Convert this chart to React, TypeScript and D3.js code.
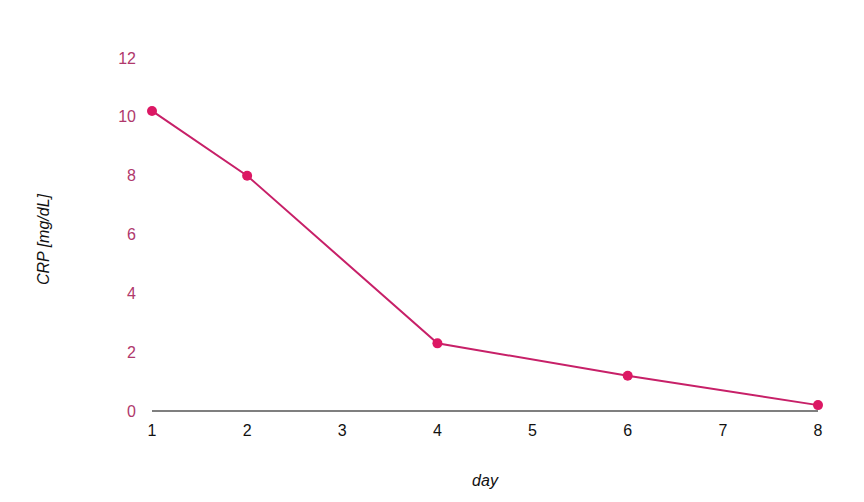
import { useRef, useEffect } from "react"
import * as d3 from "d3"

const days = [1, 2, 4, 6, 8]
const crp = [10.2, 8.0, 2.3, 1.2, 0.2]
const yTicks = [0, 2, 4, 6, 8, 10, 12]
const xTicks = [1, 2, 3, 4, 5, 6, 7, 8]

export default function App() {
  const svgRef = useRef<SVGSVGElement | null>(null)

  useEffect(() => {
    if (!svgRef.current) return
    const svg = d3.select(svgRef.current)
    svg.selectAll("*").remove()

    const width = 864
    const height = 502
    const left = 152
    const right = 818
    const top = 58
    const bottom = 411
    const font = "'Liberation Sans', Arial, sans-serif"

    const x = d3.scaleLinear().domain([1, 8]).range([left, right])
    const y = d3.scaleLinear().domain([0, 12]).range([bottom, top])

    svg.attr("width", width).attr("height", height)
    svg.append("rect").attr("width", width).attr("height", height).attr("fill", "white")

    // Y tick labels
    svg
      .append("g")
      .selectAll("text")
      .data(yTicks)
      .enter()
      .append("text")
      .attr("x", left - 16)
      .attr("y", (d) => y(d))
      .attr("dy", "0.35em")
      .attr("text-anchor", "end")
      .attr("font-family", font)
      .attr("font-size", "16px")
      .attr("fill", "#b0386c")
      .text((d) => d)

    // X tick labels
    svg
      .append("g")
      .selectAll("text")
      .data(xTicks)
      .enter()
      .append("text")
      .attr("x", (d) => x(d))
      .attr("y", bottom + 25)
      .attr("text-anchor", "middle")
      .attr("font-family", font)
      .attr("font-size", "16px")
      .attr("fill", "#111")
      .text((d) => d)

    // Baseline
    svg
      .append("line")
      .attr("x1", left)
      .attr("x2", right)
      .attr("y1", y(0))
      .attr("y2", y(0))
      .attr("stroke", "#555")
      .attr("stroke-width", 1.5)

    // Axis titles
    svg
      .append("text")
      .attr("transform", `translate(49,${(top + bottom) / 2 + 5}) rotate(-90)`)
      .attr("text-anchor", "middle")
      .attr("font-family", font)
      .attr("font-size", "16px")
      .attr("font-style", "italic")
      .attr("fill", "#111")
      .text("CRP [mg/dL]")

    svg
      .append("text")
      .attr("x", (left + right) / 2)
      .attr("y", 486)
      .attr("text-anchor", "middle")
      .attr("font-family", font)
      .attr("font-size", "16px")
      .attr("font-style", "italic")
      .attr("fill", "#111")
      .text("day")

    const pts = days.map((d, i) => ({ day: d, value: crp[i] }))

    const line = d3
      .line<{ day: number; value: number }>()
      .x((d) => x(d.day))
      .y((d) => y(d.value))

    svg
      .append("path")
      .datum(pts)
      .attr("fill", "none")
      .attr("stroke", "#c72068")
      .attr("stroke-width", 2)
      .attr("d", line)

    svg
      .selectAll(".dot")
      .data(pts)
      .enter()
      .append("circle")
      .attr("class", "dot")
      .attr("cx", (d) => x(d.day))
      .attr("cy", (d) => y(d.value))
      .attr("r", 5)
      .attr("fill", "#dc1864")
  }, [])

  return <svg ref={svgRef} style={{ position: "absolute", left: 0, top: 0, display: "block" }}></svg>
}
